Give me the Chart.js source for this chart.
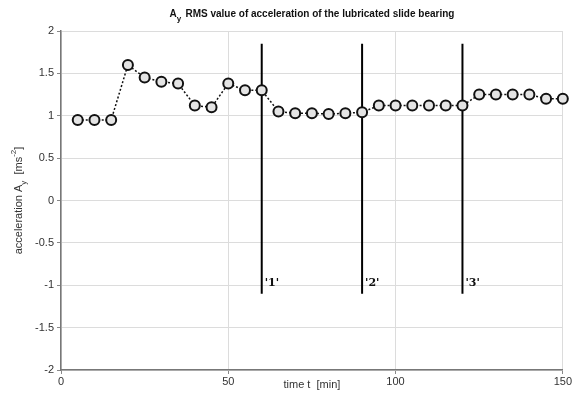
<!DOCTYPE html>
<html>
<head>
<meta charset="utf-8">
<script src="https://cdn.jsdelivr.net/npm/chart.js@4/dist/chart.umd.min.js"></script>
<style>
  html, body { margin: 0; padding: 0; background: #fff; }
  #wrap { width: 573px; height: 393px; }
</style>
</head>
<body>
<div id="wrap"><canvas id="grafica"></canvas></div>
<script>
// datos
const tiempos = [5, 10, 15, 20, 25, 30, 35, 40, 45, 50, 55, 60, 65, 70, 75, 80, 85, 90, 95, 100, 105, 110, 115, 120, 125, 130, 135, 140, 145, 150];
const rmsAy = [0.95, 0.95, 0.95, 1.6, 1.45, 1.4, 1.38, 1.12, 1.1, 1.38, 1.3, 1.3, 1.05, 1.03, 1.03, 1.02, 1.03, 1.04, 1.12, 1.12, 1.12, 1.12, 1.12, 1.12, 1.25, 1.25, 1.25, 1.25, 1.2, 1.2];
const marcasX = [60, 90, 120];
const marcasTexto = ["'1'", "'2'", "'3'"];
const marcaArriba = 1.85;
const marcaAbajo = -1.1;
const ticksX = [0, 50, 100, 150];
const ticksY = [-2, -1.5, -1, -0.5, 0, 0.5, 1, 1.5, 2];

const puntos = tiempos.map((t, i) => ({ x: t, y: rmsAy[i] }));

const datasets = [{
    label: 'RMS',
    data: puntos,
    showLine: true,
    clip: false,
    borderColor: '#111',
    borderWidth: 1.5,
    borderDash: [2, 2],
    pointRadius: 5,
    pointBorderWidth: 2,
    pointBorderColor: '#111',
    pointBackgroundColor: '#e4e4e4',
    order: 1
}];
marcasX.forEach((m, i) => {
    datasets.push({
        label: marcasTexto[i],
        data: [{ x: m, y: marcaArriba }, { x: m, y: marcaAbajo }],
        showLine: true,
        borderColor: '#000',
        borderWidth: 2,
        pointRadius: 0,
        order: 2
    });
});

// textos con subindices y etiquetas de marcas
const textos = {
    id: 'textos',
    afterDraw(chart) {
        const ctx = chart.ctx;
        const xs = chart.scales.x, ys = chart.scales.y;
        ctx.save();
        ctx.fillStyle = '#111';
        // etiquetas '1' '2' '3'
        ctx.font = 'bold 11px "DejaVu Serif", serif';
        ctx.textBaseline = 'middle';
        ctx.textAlign = 'left';
        marcasX.forEach((m, i) => {
            ctx.fillText(marcasTexto[i], xs.getPixelForValue(m) + 3, ys.getPixelForValue(-1) - 2);
        });
        // titulo
        ctx.font = 'bold 10px "Liberation Sans", Arial, sans-serif';
        const t1 = 'A', t2 = ' RMS value of acceleration of the lubricated slide bearing';
        const wA = ctx.measureText(t1).width, wY = 6, w2 = ctx.measureText(t2).width;
        let x0 = (chart.chartArea.left + chart.chartArea.right) / 2 - (wA + wY + w2) / 2;
        const yT = 14;
        ctx.fillText(t1, x0, yT);
        ctx.font = 'bold 8px "Liberation Sans", Arial, sans-serif';
        ctx.fillText('y', x0 + wA, yT + 5);
        ctx.font = 'bold 10px "Liberation Sans", Arial, sans-serif';
        ctx.fillText(t2, x0 + wA + wY, yT);
        // etiqueta eje x
        ctx.font = '11px "Liberation Sans", Arial, sans-serif';
        ctx.textAlign = 'center';
        ctx.fillStyle = '#333';
        ctx.fillText('time t  [min]', (chart.chartArea.left + chart.chartArea.right) / 2, 385);
        // etiqueta eje y (rotada)
        ctx.translate(19, (chart.chartArea.top + chart.chartArea.bottom) / 2);
        ctx.rotate(-Math.PI / 2);
        ctx.textAlign = 'left';
        const p1 = 'acceleration A', p2 = '  [ms', p3 = ']';
        ctx.font = '11px "Liberation Sans", Arial, sans-serif';
        const w1 = ctx.measureText(p1).width, wp2 = ctx.measureText(p2).width;
        ctx.font = '8px "Liberation Sans", Arial, sans-serif';
        const wsub = ctx.measureText('y').width, wsup = ctx.measureText('-2').width;
        ctx.font = '11px "Liberation Sans", Arial, sans-serif';
        const total = w1 + wsub + wp2 + wsup + ctx.measureText(p3).width;
        let xx = -total / 2;
        ctx.fillText(p1, xx, 0); xx += w1;
        ctx.font = '8px "Liberation Sans", Arial, sans-serif';
        ctx.fillText('y', xx, 5); xx += wsub;
        ctx.font = '11px "Liberation Sans", Arial, sans-serif';
        ctx.fillText(p2, xx, 0); xx += wp2;
        ctx.font = '8px "Liberation Sans", Arial, sans-serif';
        ctx.fillText('-2', xx, -5); xx += wsup;
        ctx.font = '11px "Liberation Sans", Arial, sans-serif';
        ctx.fillText(p3, xx, 0);
        ctx.restore();
    }
};

const config = {
    type: 'scatter',
    data: { datasets: datasets },
    options: {
        responsive: true,
        maintainAspectRatio: false,
        animation: false,
        layout: { padding: { top: 31, right: 9, left: 0, bottom: 0 } },
        plugins: { legend: { display: false }, tooltip: { enabled: false } },
        scales: {
            x: {
                type: 'linear',
                min: 0, max: 150,
                afterBuildTicks: s => { s.ticks = ticksX.map(v => ({ value: v })); },
                afterFit: s => { s.height = 23; },
                grid: { color: '#dcdcdc', tickLength: 4, tickColor: '#888' },
                border: { color: '#777', width: 1.5 },
                ticks: { color: '#333', font: { size: 11, family: '"Liberation Sans", Arial' }, padding: 1, callback: v => String(v) }
            },
            y: {
                min: -2, max: 2,
                afterBuildTicks: s => { s.ticks = ticksY.map(v => ({ value: v })); },
                afterFit: s => { s.width = 61; },
                grid: { color: '#dcdcdc', tickLength: 4, tickColor: '#888' },
                border: { color: '#777', width: 1.5 },
                ticks: { color: '#333', font: { size: 11, family: '"Liberation Sans", Arial' }, padding: 3, callback: v => String(v) }
            }
        }
    },
    plugins: [textos]
};

const Grafico = new Chart(document.getElementById('grafica'), config);
</script>
</body>
</html>
